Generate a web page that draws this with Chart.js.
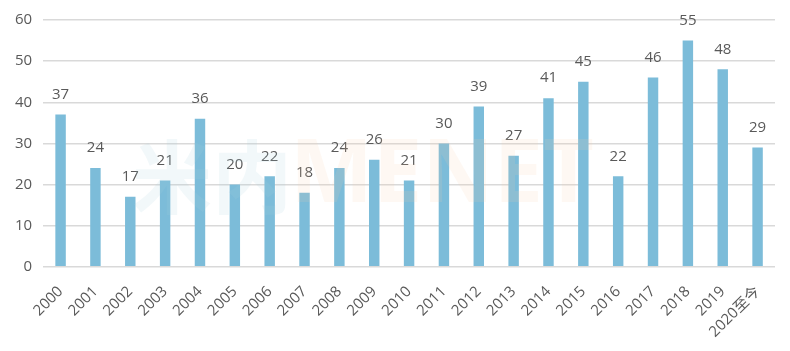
<!DOCTYPE html>
<html>
<head>
<meta charset="utf-8">
<script src="https://cdn.jsdelivr.net/npm/chart.js@4"></script>
<style>
  html, body { margin: 0; padding: 0; background: #fff; }
  #wrap { width: 790px; height: 351px; }
</style>
</head>
<body>
<div id="wrap"><canvas id="chart" width="790" height="351"></canvas></div>
<script>
// 数据
const years = ["2000", "2001", "2002", "2003", "2004", "2005", "2006", "2007", "2008", "2009", "2010",
  "2011", "2012", "2013", "2014", "2015", "2016", "2017", "2018", "2019", "2020至今"];
const counts = [37, 24, 17, 21, 36, 20, 22, 18, 24, 26, 21, 30, 39, 27, 41, 45, 22, 46, 55, 48, 29];
const yTicks = [0, 10, 20, 30, 40, 50, 60];

const textColor = "#595959";
const fontFamily = "'Open Sans', 'Noto Sans CJK SC', sans-serif";

// 柱顶数值
const valueLabels = {
  id: "valueLabels",
  afterDatasetsDraw(chart) {
    const ctx = chart.ctx;
    const meta = chart.getDatasetMeta(0);
    ctx.save();
    ctx.font = "15px " + fontFamily;
    ctx.fillStyle = textColor;
    ctx.textAlign = "center";
    ctx.textBaseline = "middle";
    meta.data.forEach((bar, i) => {
      ctx.fillText(counts[i], bar.x, bar.y - 20);
    });
    ctx.restore();
  }
};

// 水印
const watermark = {
  id: "watermark",
  afterDatasetsDraw(chart) {
    const ctx = chart.ctx;
    ctx.save();
    ctx.textBaseline = "middle";
    ctx.font = "bold 80px 'Noto Sans CJK SC', sans-serif";
    ctx.fillStyle = "rgba(170, 205, 222, 0.15)";
    ctx.fillText("米内", 132, 177);
    ctx.font = "bold 88px 'Open Sans', sans-serif";
    ctx.fillStyle = "rgba(250, 205, 170, 0.14)";
    ctx.fillText("MENET", 290, 177);
    ctx.restore();
  }
};

const ctx = document.getElementById("chart").getContext("2d");
new Chart(ctx, {
  type: "bar",
  data: {
    labels: years,
    datasets: [{
      data: counts,
      backgroundColor: "#7CBCD9",
      categoryPercentage: 1.0,
      barPercentage: 0.3
    }]
  },
  options: {
    responsive: false,
    animation: false,
    layout: { padding: { left: 4, right: 15, top: 10, bottom: 2 } },
    plugins: {
      legend: { display: false },
      tooltip: { enabled: false }
    },
    scales: {
      x: {
        grid: { display: false },
        border: { display: false },
        ticks: {
          color: textColor,
          font: { family: fontFamily, size: 15 },
          maxRotation: 45,
          minRotation: 45,
          padding: 8
        }
      },
      y: {
        min: 0,
        max: 60,
        afterBuildTicks(scale) {
          scale.ticks = yTicks.map(v => ({ value: v }));
        },
        grid: { color: "#D9D9D9", lineWidth: 1.5, drawTicks: false },
        border: { display: false },
        ticks: {
          color: textColor,
          font: { family: fontFamily, size: 15 },
          padding: 11
        }
      }
    }
  },
  plugins: [valueLabels, watermark]
});
</script>
</body>
</html>
